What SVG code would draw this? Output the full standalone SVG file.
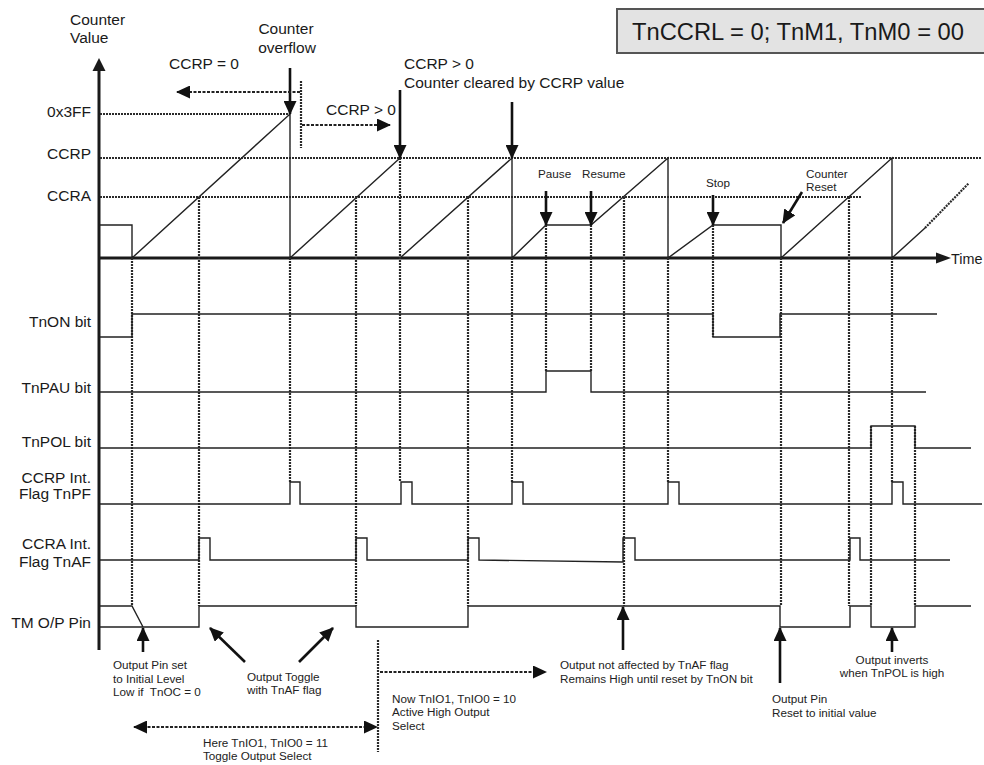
<svg xmlns="http://www.w3.org/2000/svg" width="984" height="765" viewBox="0 0 984 765">
<style>
.ax{stroke:#1a1a1a;stroke-width:3;fill:none}
.sig{stroke:#222;stroke-width:1.4;fill:none}
.dot{stroke:#2a2a2a;stroke-width:2.2;stroke-dasharray:2 1;fill:none}
.arr{stroke:#111;stroke-width:2.6;fill:none;marker-end:url(#ah)}
.darr{stroke:#222;stroke-width:2;stroke-dasharray:3 1.5;fill:none;marker-end:url(#ah)}
.lbl{font-family:"Liberation Sans",Arial,sans-serif;font-size:15.5px;fill:#1a1a1a}
.sm{font-family:"Liberation Sans",Arial,sans-serif;font-size:11.7px;fill:#222}
.r{text-anchor:end}
.c{text-anchor:middle}
</style>
<defs>
<marker id="ah" markerUnits="userSpaceOnUse" markerWidth="14" markerHeight="13" viewBox="0 0 14 13" refX="13" refY="6.5" orient="auto">
<path d="M0,0 L14,6.5 L0,13 z" fill="#111"/>
</marker>
<marker id="ahs" markerUnits="userSpaceOnUse" markerWidth="14" markerHeight="13" viewBox="0 0 14 13" refX="13" refY="6.5" orient="auto-start-reverse">
<path d="M0,0 L14,6.5 L0,13 z" fill="#111"/>
</marker>
</defs>

<g id="title">
<rect x="617" y="9" width="372" height="44" fill="#e3e3e3" stroke="#555" stroke-width="2"/>
<text x="632" y="40" font-family="Liberation Sans,Arial,sans-serif" font-size="23" fill="#1a1a1a" textLength="332" lengthAdjust="spacingAndGlyphs">TnCCRL = 0; TnM1, TnM0 = 00</text>
</g>

<g id="axes">
<line class="ax" x1="99" y1="70" x2="99" y2="650"/>
<polygon points="99,58 92.5,71 105.5,71" fill="#1a1a1a"/>
<line class="ax" x1="99" y1="258" x2="937" y2="258"/>
<polygon points="936,252.5 951,258 936,263.5" fill="#1a1a1a"/>
<text x="951" y="264" font-family="Liberation Sans,Arial,sans-serif" font-size="14.4" fill="#1a1a1a">Time</text>
<text class="lbl" x="70" y="25">Counter</text>
<text class="lbl" x="70" y="43">Value</text>
</g>

<g id="levels">
<line class="dot" x1="100" y1="114" x2="290" y2="114"/>
<line class="dot" x1="100" y1="158" x2="981" y2="158"/>
<line class="dot" x1="100" y1="197" x2="862" y2="197"/>
<text class="lbl r" x="91" y="117">0x3FF</text>
<text class="lbl r" x="91" y="159">CCRP</text>
<text class="lbl r" x="91" y="201">CCRA</text>
</g>

<g id="counter">
<path class="sig" d="M100,225 H132 V258 L290,114 V258 L400,158 M400,258 L512,158 V258 L546,225 H591 L668,158 V258 L713,225 H781 V258 L892,158 V258 L925,228"/>
<path class="dot" d="M925,228 L969,183" stroke-width="1.8"/>
</g>

<g id="guides">
<path class="dot" d="M132,258V606 M199,197V606 M290,258V482 M356,197V606 M400,158V482 M468,197V606 M512,258V482 M546,225V371 M591,225V371 M624,197V606 M668,258V482 M713,225V337 M781,258V606 M849,197V606 M871,426V606 M892,258V482 M915,426V606"/>
</g>

<g id="signals">
<path class="sig" d="M100,337 H132 V314 H713 V337 H780 V314 H937"/>
<path class="sig" d="M100,392 H546 V371 H591 V392 H926"/>
<path class="sig" d="M100,448 H871 V426 H915 V448 H971"/>
<path class="sig" d="M100,504 H290 V482 H300 V504 H401 V482 H412 V504 H512 V482 H523 V504 H668 V482 H679 V504 H892 V482 H903 V504 H982"/>
<path class="sig" d="M100,560 H199 V538 H210 V560 H356 V538 H367 V560 H468 V538 H479 V560 L623,562 V538 H635 V560 H850 V538 H860 V560 H950"/>
<path class="sig" d="M100,606 H132 L143,627 M100,627 H199 V606 H356 V627 H468 V606 H780 V627 H850 V606 H871 V627 H915 V606 H971"/>
<text class="lbl r" x="91" y="327">TnON bit</text>
<text class="lbl r" x="91" y="393">TnPAU bit</text>
<text class="lbl r" x="91" y="447">TnPOL bit</text>
<text class="lbl r" x="91" y="483">CCRP Int.</text>
<text class="lbl r" x="91" y="499">Flag TnPF</text>
<text class="lbl r" x="91" y="549">CCRA Int.</text>
<text class="lbl r" x="91" y="567">Flag TnAF</text>
<text class="lbl r" x="91" y="628">TM O/P Pin</text>
</g>

<g id="top-annotations">
<line class="arr" x1="290" y1="68" x2="290" y2="114"/>
<text class="lbl c" x="286" y="34">Counter</text>
<text class="lbl c" x="287" y="53">overflow</text>
<text class="lbl" x="169" y="69">CCRP = 0</text>
<line class="darr" x1="300" y1="92" x2="177" y2="92"/>
<line class="dot" x1="301" y1="81" x2="301" y2="148"/>
<text class="lbl" x="326" y="115">CCRP &gt; 0</text>
<line class="darr" x1="302" y1="125" x2="390" y2="125"/>
<line class="arr" x1="400" y1="90" x2="400" y2="158"/>
<line class="arr" x1="512" y1="102" x2="512" y2="158"/>
<text class="lbl" x="404" y="69">CCRP &gt; 0</text>
<text class="lbl" x="404" y="88">Counter cleared by CCRP value</text>
<line class="arr" x1="546" y1="191" x2="546" y2="225"/>
<line class="arr" x1="591" y1="191" x2="591" y2="225"/>
<text class="sm" x="538" y="178">Pause</text>
<text class="sm" x="582" y="178">Resume</text>
<line class="arr" x1="713" y1="195" x2="713" y2="225"/>
<text class="sm" x="706" y="187">Stop</text>
<line class="arr" x1="802" y1="192" x2="783" y2="223"/>
<text class="sm" x="806" y="178">Counter</text>
<text class="sm" x="806" y="191">Reset</text>
</g>

<g id="bottom-annotations">
<line class="arr" x1="143" y1="652" x2="143" y2="628"/>
<text class="sm" x="113" y="669">Output Pin set</text>
<text class="sm" x="113" y="683">to Initial Level</text>
<text class="sm" x="113" y="696" xml:space="preserve">Low if  TnOC = 0</text>
<line class="arr" x1="245" y1="662" x2="210" y2="628"/>
<line class="arr" x1="299" y1="662" x2="333" y2="628"/>
<text class="sm" x="247" y="681">Output Toggle</text>
<text class="sm" x="247" y="694">with TnAF flag</text>
<line class="dot" x1="378" y1="640" x2="378" y2="752"/>
<line class="darr" x1="134" y1="727" x2="377" y2="727" style="marker-start:url(#ahs);marker-end:url(#ahs)"/>
<text class="sm" x="203" y="747">Here TnIO1, TnIO0 = 11</text>
<text class="sm" x="203" y="760">Toggle Output Select</text>
<line class="darr" x1="380" y1="672" x2="546" y2="672"/>
<text class="sm" x="392" y="703">Now TnIO1, TnIO0 = 10</text>
<text class="sm" x="392" y="716">Active High Output</text>
<text class="sm" x="392" y="730">Select</text>
<line class="arr" x1="623" y1="650" x2="623" y2="607"/>
<text class="sm" x="560" y="669">Output not affected by TnAF flag</text>
<text class="sm" x="560" y="683">Remains High until reset by TnON bit</text>
<line class="arr" x1="780" y1="683" x2="780" y2="628"/>
<text class="sm" x="772" y="703">Output Pin</text>
<text class="sm" x="772" y="717">Reset to initial value</text>
<line class="arr" x1="892" y1="652" x2="892" y2="628"/>
<text class="sm c" x="892" y="664">Output inverts</text>
<text class="sm c" x="892" y="677">when TnPOL is high</text>
</g>
</svg>
